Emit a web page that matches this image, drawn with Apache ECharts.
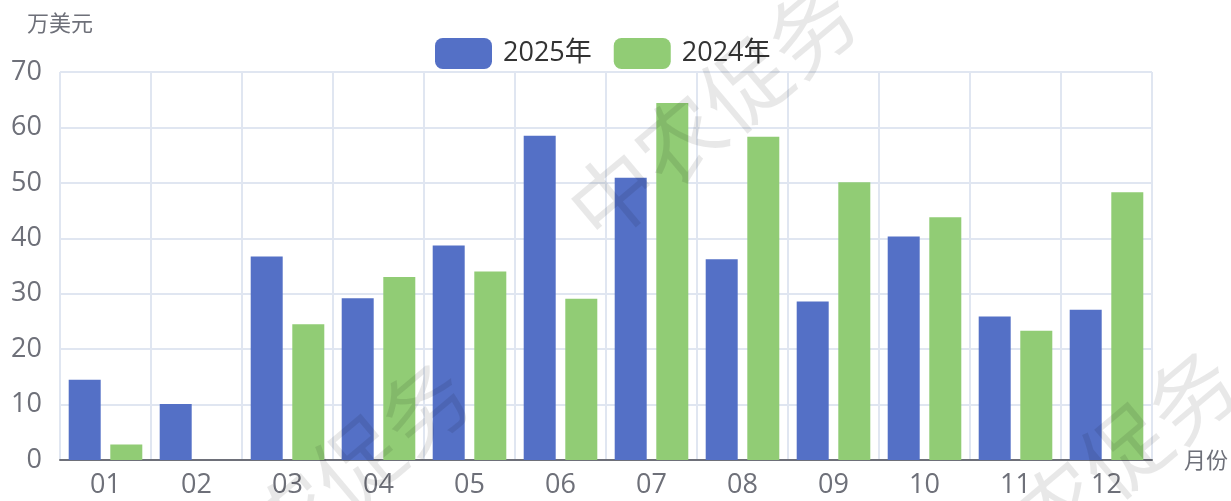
<!DOCTYPE html>
<html>
<head>
<meta charset="utf-8">
<script src="https://cdn.jsdelivr.net/npm/echarts@6/dist/echarts.min.js"></script>
<style>
html,body{margin:0;padding:0;background:#fff;}
#main{width:1231px;height:501px;}
</style>
</head>
<body>
<div id="main"></div>
<script>
var months = ['01','02','03','04','05','06','07','08','09','10','11','12'];
var seriesNames = ['2025年','2024年'];
var values2025 = [14.5, 10.1, 36.7, 29.2, 38.7, 58.5, 50.9, 36.2, 28.6, 40.3, 25.9, 27.1];
var values2024 = [2.8, 0, 24.5, 33.0, 34.0, 29.1, 64.4, 58.3, 50.1, 43.8, 23.3, 48.3];
var yAxisName = '万美元';
var xAxisName = '月份';
var watermarkText = '中农促务';

var font = '"Open Sans", "Noto Sans CJK SC", sans-serif';
var cjk = '"Noto Sans CJK SC", sans-serif';
var chart = echarts.init(document.getElementById('main'), null, {renderer:'canvas'});

function wm(x, y) {
  return {
    type: 'text', x: x, y: y, rotation: 40 * Math.PI / 180, z: 100, silent: true,
    style: {
      text: watermarkText, fontSize: 86, fontFamily: cjk,
      fill: 'rgba(0,0,0,0.09)', align: 'center', verticalAlign: 'middle'
    }
  };
}

chart.setOption({
  animation: false,
  backgroundColor: '#fff',
  color: ['#5470c6', '#91cc75'],
  textStyle: {fontFamily: font},
  grid: {left: 60, right: 77, top: 72, bottom: 41},
  legend: {
    data: seriesNames, left: 430, top: 33,
    itemWidth: 57, itemHeight: 31, itemGap: 22,
    textStyle: {fontSize: 27, color: '#333', fontFamily: font, padding: [0, 0, 0, 6]}
  },
  xAxis: {
    type: 'category', data: months,
    name: xAxisName, nameLocation: 'end', nameGap: 32,
    nameTextStyle: {fontSize: 22, color: '#6e7079', fontFamily: cjk},
    axisLine: {lineStyle: {color: '#6e7079', width: 2}},
    axisTick: {length: 10, lineStyle: {width: 2}},
    axisLabel: {fontSize: 27, color: '#6e7079', margin: 12, fontFamily: font},
    splitLine: {show: true, lineStyle: {color: '#e0e6f1', width: 2}}
  },
  yAxis: {
    type: 'value', min: 0, max: 70, interval: 10,
    name: yAxisName, nameLocation: 'end', nameGap: 38,
    nameTextStyle: {fontSize: 22, color: '#6e7079', fontFamily: cjk, align: 'center'},
    axisLabel: {fontSize: 27, color: '#6e7079', margin: 18, fontFamily: font},
    splitLine: {lineStyle: {color: '#e0e6f1', width: 2}}
  },
  series: [
    {name: seriesNames[0], type: 'bar', data: values2025, barWidth: 32, barGap: '30%'},
    {name: seriesNames[1], type: 'bar', data: values2024, barWidth: 32, barGap: '30%'}
  ],
  graphic: [wm(712, 112), wm(325, 490), wm(1092, 478)]
});
</script>
</body>
</html>
